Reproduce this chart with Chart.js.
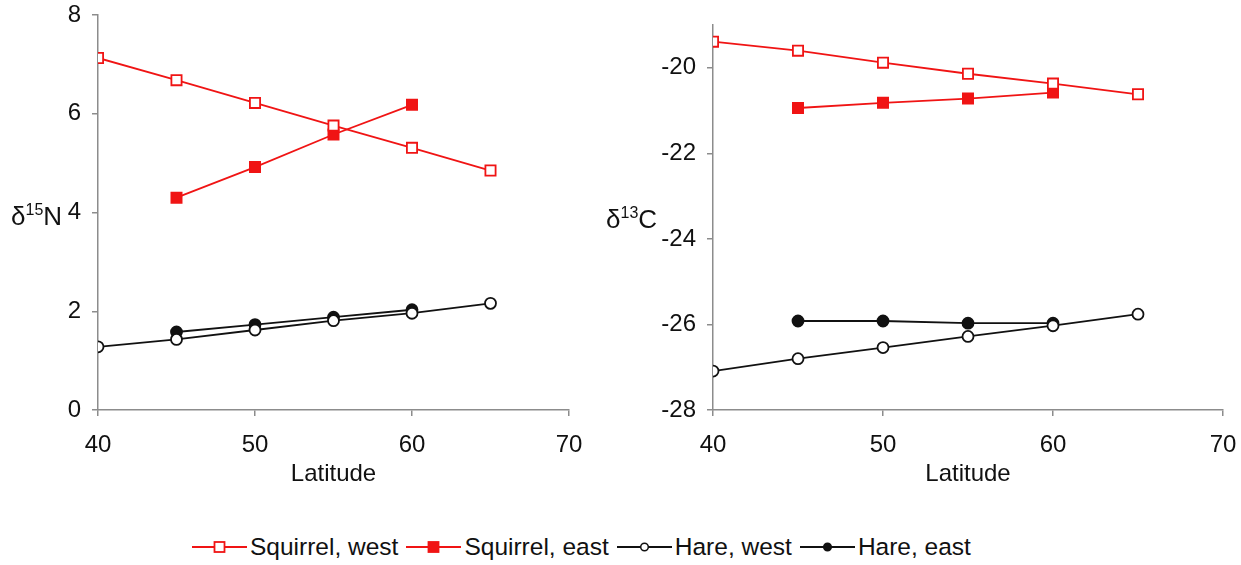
<!DOCTYPE html>
<html>
<head>
<meta charset="utf-8">
<script src="https://cdn.jsdelivr.net/npm/chart.js@4.4.0/dist/chart.umd.min.js"></script>
<style>
  body { margin: 0; background: #fff; font-family: "Liberation Sans", Arial, sans-serif; }
  #wrap { position: relative; width: 1241px; height: 565px; overflow: hidden; }
  canvas { position: absolute; top: 0; }
  .ytitle { position: absolute; font-size: 26px; color: #111; white-space: nowrap; line-height: 1; }
  .ytitle sup { font-size: 16px; vertical-align: 10px; }
  #legend { position: absolute; top: 533px; left: 192px; display: flex; align-items: center; font-size: 24.5px; color: #111; }
  .item { display: flex; align-items: center; margin-right: 8px; }
  .item svg { margin-right: 3px; }
</style>
</head>
<body>
<div id="wrap">
  <canvas id="chartN" width="600" height="500" style="left:0"></canvas>
  <canvas id="chartC" width="641" height="500" style="left:600px"></canvas>
  <div class="ytitle" style="left:11px; top:202px;">&delta;<sup>15</sup>N</div>
  <div class="ytitle" style="left:606px; top:205px;">&delta;<sup>13</sup>C</div>
  <div id="legend"></div>
</div>
<script>
// latitudes sampled
const latWest = [40, 45, 50, 55, 60, 65];
const latEast = [45, 50, 55, 60];

// delta 15N
const n15SquirrelWest = [7.13, 6.68, 6.22, 5.76, 5.31, 4.85];
const n15SquirrelEast = [4.3, 4.92, 5.58, 6.18];
const n15HareWest = [1.28, 1.43, 1.62, 1.81, 1.96, 2.16];
const n15HareEast = [1.58, 1.73, 1.88, 2.03];

// delta 13C
const c13SquirrelWest = [-19.39, -19.6, -19.88, -20.14, -20.37, -20.62];
const c13SquirrelEast = [-20.94, -20.82, -20.72, -20.58];
const c13HareWest = [-27.09, -26.8, -26.54, -26.28, -26.03, -25.76];
const c13HareEast = [-25.92, -25.92, -25.97, -25.97];

const xTicks = [40, 50, 60, 70];
const seriesNames = ['Squirrel, west', 'Squirrel, east', 'Hare, west', 'Hare, east'];

const RED = '#f01414';
const BLACK = '#111';
const AXIS = '#8c8c8c';
const FONT = '"Liberation Sans", Arial, sans-serif';

const styles = [
    { color: RED, fill: '#fff', shape: 'rect', radius: 7.2 },
    { color: RED, fill: RED, shape: 'rect', radius: 7.2 },
    { color: BLACK, fill: '#fff', shape: 'circle', radius: 5.5 },
    { color: BLACK, fill: BLACK, shape: 'circle', radius: 5.5 }
];

function points(xs, ys) {
    return xs.map((x, i) => ({ x: x, y: ys[i] }));
}

function makeDatasets(groups) {
    return groups.map((g, i) => ({
        label: seriesNames[i],
        data: points(g[0], g[1]),
        borderColor: styles[i].color,
        backgroundColor: styles[i].fill,
        pointBackgroundColor: styles[i].fill,
        pointBorderColor: styles[i].color,
        pointBorderWidth: 1.8,
        pointStyle: styles[i].shape,
        pointRadius: styles[i].radius,
        borderWidth: 1.8,
        tension: 0
    }));
}

function makeChart(id, groups, yMin, yMax, yWidth, pad) {
    return new Chart(document.getElementById(id), {
        type: 'line',
        data: { datasets: makeDatasets(groups) },
        options: {
            responsive: false,
            animation: false,
            devicePixelRatio: 1,
            layout: { padding: pad },
            plugins: { legend: { display: false }, tooltip: { enabled: false } },
            scales: {
                x: {
                    type: 'linear',
                    min: 40, max: 70,
                    afterBuildTicks: s => { s.ticks = xTicks.map(v => ({ value: v })); },
                    afterFit: s => { s.height = 90; s.paddingLeft = 0; s.paddingRight = 0; },
                    grid: { drawOnChartArea: false, drawTicks: true, tickLength: 6, color: AXIS, lineWidth: 1.5 },
                    border: { color: AXIS, width: 1.5 },
                    ticks: { color: '#111', font: { family: FONT, size: 24 }, padding: 15, maxRotation: 0 },
                    title: { display: true, text: 'Latitude', color: '#111', font: { family: FONT, size: 24 }, padding: { top: 0, bottom: 11 } }
                },
                y: {
                    min: yMin, max: yMax,
                    afterBuildTicks: s => { s.ticks = s.ticks.filter(t => t.value % 2 === 0); },
                    afterFit: s => { s.width = yWidth; s.paddingTop = 0; s.paddingBottom = 0; },
                    grid: { drawOnChartArea: false, drawTicks: true, tickLength: 6, color: AXIS, lineWidth: 1.5 },
                    border: { color: AXIS, width: 1.5 },
                    ticks: { stepSize: 2, color: '#111', font: { family: FONT, size: 24 }, padding: 11 }
                }
            }
        }
    });
}

makeChart('chartN', [
    [latWest, n15SquirrelWest],
    [latEast, n15SquirrelEast],
    [latWest, n15HareWest],
    [latEast, n15HareEast]
], 0, 8, 40, { left: 58, right: 31, top: 15, bottom: 0 });

makeChart('chartC', [
    [latWest, c13SquirrelWest],
    [latEast, c13SquirrelEast],
    [latWest, c13HareWest],
    [latEast, c13HareEast]
], -28, -19, 60, { left: 53, right: 18, top: 25, bottom: 0 });

// shared legend under both panels
const legend = document.getElementById('legend');
seriesNames.forEach((name, i) => {
    const st = styles[i];
    const marker = st.shape === 'rect'
        ? `<rect x="22.5" y="3" width="10" height="10" fill="${st.fill}" stroke="${st.color}" stroke-width="1.8"/>`
        : `<circle cx="27.5" cy="8" r="3.8" fill="${st.fill}" stroke="${st.color}" stroke-width="1.5"/>`;
    const item = document.createElement('div');
    item.className = 'item';
    item.innerHTML = `<svg width="55" height="16"><line x1="0" y1="8" x2="55" y2="8" stroke="${st.color}" stroke-width="1.8"/>${marker}</svg><span>${name}</span>`;
    legend.appendChild(item);
});
</script>
</body>
</html>
